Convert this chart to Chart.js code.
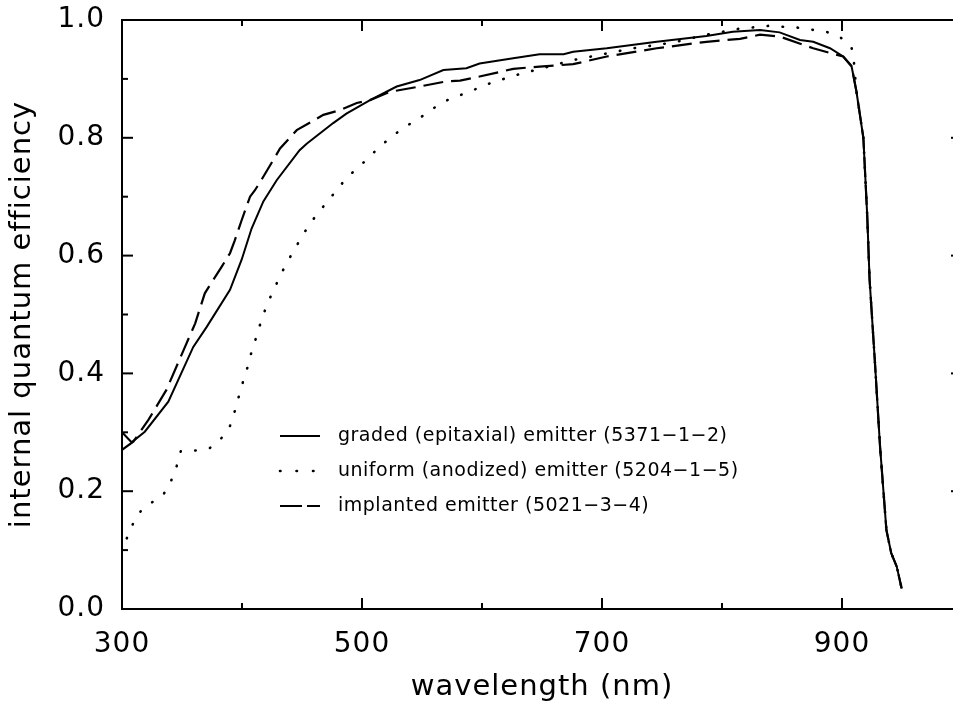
<!DOCTYPE html>
<html>
<head>
<meta charset="utf-8">
<script src="https://cdn.jsdelivr.net/npm/chart.js@4.4.1/dist/chart.umd.min.js"></script>
<style>
  html, body { margin: 0; padding: 0; background: #fff; overflow: hidden; }
  #wrap { width: 980px; height: 702px; }
</style>
</head>
<body>
<div id="wrap"><canvas id="qeChart"></canvas></div>
<script>
// graded (epitaxial) emitter, solid
const gradedNm = [300, 308, 319, 338.6, 359.4, 370.6, 390, 399.7, 408, 417.8, 428.9, 448, 453.9, 476, 487, 506.7, 528.9, 548, 567.8, 587, 598, 626, 648, 668, 676, 704, 745.6, 787, 809, 831.7, 848, 865, 876, 890, 901, 908, 912, 917.8, 921, 923, 927.5, 931.7, 937, 941, 945.6, 949.7];
const gradedQe = [0.30, 0.283, 0.301, 0.352, 0.445, 0.479, 0.542, 0.593, 0.646, 0.692, 0.728, 0.779, 0.79, 0.825, 0.841, 0.864, 0.887, 0.898, 0.915, 0.918, 0.926, 0.935, 0.942, 0.942, 0.946, 0.952, 0.963, 0.973, 0.98, 0.983, 0.979, 0.966, 0.963, 0.952, 0.938, 0.921, 0.879, 0.80, 0.669, 0.559, 0.417, 0.276, 0.134, 0.095, 0.072, 0.035];

// uniform (anodized) emitter, dotted
const uniformNm = [304, 309, 315.6, 325, 335, 341, 345.6, 349, 361, 373, 382.8, 390, 394, 397.5, 401, 404.7, 408, 412, 415.8, 420, 425, 430.6, 436, 442.8, 449, 455.8, 463.6, 471.7, 480, 488, 497.8, 506.7, 516, 526, 536, 547, 558, 568.6, 580, 591.7, 603, 615, 627.5, 650, 676, 701, 726, 760, 787, 813.6, 838.6, 863, 887, 899, 908, 910, 912, 917.8, 921, 923, 927.5, 931.7, 937, 941, 945.6, 949.7];
const uniformQe = [0.12, 0.144, 0.166, 0.181, 0.196, 0.218, 0.243, 0.268, 0.269, 0.273, 0.29, 0.311, 0.336, 0.362, 0.387, 0.411, 0.437, 0.462, 0.488, 0.512, 0.536, 0.56, 0.583, 0.607, 0.629, 0.652, 0.673, 0.693, 0.714, 0.734, 0.751, 0.769, 0.787, 0.804, 0.819, 0.832, 0.848, 0.862, 0.871, 0.88, 0.89, 0.898, 0.906, 0.918, 0.932, 0.942, 0.952, 0.962, 0.975, 0.985, 0.99, 0.987, 0.98, 0.97, 0.953, 0.927, 0.879, 0.80, 0.669, 0.559, 0.417, 0.276, 0.134, 0.095, 0.072, 0.035];

// implanted emitter, dashed
const implantedNm = [300, 309.4, 322, 337, 352.5, 361, 369, 383, 390, 394, 399.7, 406.7, 410.8, 416, 426, 431.7, 445.6, 467.8, 481.7, 495.6, 506.7, 523, 548, 570.6, 581.7, 598, 626, 648, 676, 704, 745.6, 787, 815, 831.7, 848, 876, 901, 908, 912, 917.8, 921, 923, 927.5, 931.7, 937, 941, 945.6, 949.7];
const implantedQe = [0.27, 0.284, 0.321, 0.372, 0.445, 0.485, 0.536, 0.581, 0.604, 0.626, 0.66, 0.70, 0.711, 0.728, 0.762, 0.782, 0.813, 0.839, 0.847, 0.859, 0.864, 0.878, 0.887, 0.896, 0.897, 0.904, 0.917, 0.921, 0.925, 0.938, 0.952, 0.963, 0.968, 0.975, 0.972, 0.952, 0.938, 0.922, 0.879, 0.80, 0.669, 0.559, 0.417, 0.276, 0.134, 0.095, 0.072, 0.035];

const seriesLabels = [
    'graded (epitaxial) emitter (5371\u22121\u22122)',
    'uniform (anodized) emitter (5204\u22121\u22125)',
    'implanted emitter (5021\u22123\u22124)'
];

const xTickLabels = [300, 500, 700, 900];
const xMinorTicks = [400, 600, 800, 1000];
const yTickLabels = [0, 0.2, 0.4, 0.6, 0.8, 1.0];
const yMinorTicks = [0.1, 0.3, 0.5, 0.7, 0.9];

const toPoints = (xs, ys) => xs.map((x, i) => ({ x, y: ys[i] }));

const FONT = '"DejaVu Sans", sans-serif';

// axes box with inward ticks, like the plotting package draws them
const frame = {
    id: 'frame',
    beforeDraw(chart) {
        chart.ctx.letterSpacing = '1px';
    },
    afterDatasetsDraw(chart) {
        const { ctx, chartArea: a, scales: { x, y } } = chart;
        ctx.save();
        ctx.strokeStyle = '#000';
        ctx.lineWidth = 2;
        ctx.lineCap = 'butt';
        ctx.strokeRect(a.left, a.top, a.right - a.left, a.bottom - a.top);

        const tick = (px, py, dx, dy) => {
            ctx.beginPath();
            ctx.moveTo(px, py);
            ctx.lineTo(px + dx, py + dy);
            ctx.stroke();
        };
        xTickLabels.forEach(v => {
            const px = x.getPixelForValue(v);
            tick(px, a.bottom, 0, -11);
            tick(px, a.top, 0, 11);
        });
        xMinorTicks.forEach(v => {
            const px = x.getPixelForValue(v);
            tick(px, a.bottom, 0, -6);
            tick(px, a.top, 0, 6);
        });
        yTickLabels.forEach(v => {
            const py = y.getPixelForValue(v);
            tick(a.left, py, 11, 0);
            tick(a.right, py, -11, 0);
        });
        yMinorTicks.forEach(v => {
            const py = y.getPixelForValue(v);
            tick(a.left, py, 6, 0);
            tick(a.right, py, -6, 0);
        });
        ctx.restore();
    },
    afterDraw(chart) {
        const { ctx, chartArea: a } = chart;
        const x0 = a.left + 158, x1 = a.left + 198, tx = a.left + 216;
        const rows = [436, 471, 506];
        ctx.save();
        ctx.letterSpacing = '0.5px';
        ctx.font = '19px ' + FONT;
        ctx.fillStyle = '#000';
        ctx.textBaseline = 'middle';
        chart.data.datasets.forEach((ds, i) => {
            ctx.strokeStyle = '#000';
            ctx.lineWidth = ds.borderWidth;
            ctx.lineCap = ds.borderCapStyle || 'butt';
            ctx.setLineDash(ds.legendDash || []);
            ctx.beginPath();
            ctx.moveTo(x0, rows[i]);
            ctx.lineTo(x1, rows[i]);
            ctx.stroke();
            ctx.setLineDash([]);
            ctx.fillText(seriesLabels[i], tx, rows[i]);
        });
        ctx.restore();
    }
};

new Chart(document.getElementById('qeChart'), {
    type: 'scatter',
    data: {
        datasets: [{
            label: seriesLabels[0],
            data: toPoints(gradedNm, gradedQe),
            borderColor: '#000',
            borderWidth: 2,
            legendDash: []
        }, {
            label: seriesLabels[1],
            data: toPoints(uniformNm, uniformQe),
            borderColor: '#000',
            borderWidth: 2.6,
            borderDash: [0.5, 14.5],
            borderCapStyle: 'round',
            legendDash: [0.5, 16]
        }, {
            label: seriesLabels[2],
            data: toPoints(implantedNm, implantedQe),
            borderColor: '#000',
            borderWidth: 2.2,
            borderDash: [20, 8],
            legendDash: [22, 5]
        }]
    },
    options: {
        responsive: true,
        maintainAspectRatio: false,
        animation: false,
        showLine: true,
        elements: { point: { radius: 0 }, line: { tension: 0 } },
        layout: { padding: { top: 20, right: 18, left: 0, bottom: 0 } },
        plugins: { legend: { display: false }, tooltip: { enabled: false } },
        scales: {
            x: {
                type: 'linear',
                min: 300,
                max: 1000,
                afterBuildTicks: s => { s.ticks = xTickLabels.map(v => ({ value: v })); },
                afterFit: s => { s.height = 93; s.paddingLeft = 0; s.paddingRight = 0; },
                grid: { display: false },
                border: { display: false },
                ticks: {
                    color: '#000',
                    font: { family: FONT, size: 28 },
                    padding: 11,
                    maxRotation: 0,
                    autoSkip: false,
                    callback: v => String(v)
                },
                title: {
                    display: true,
                    text: 'wavelength (nm)',
                    color: '#000',
                    font: { family: FONT, size: 29, lineHeight: 1 },
                    padding: { top: 0, bottom: 0 }
                }
            },
            y: {
                min: 0,
                max: 1,
                afterBuildTicks: s => { s.ticks = yTickLabels.map(v => ({ value: v })); },
                afterFit: s => { s.width = 122; s.paddingTop = 0; s.paddingBottom = 0; },
                grid: { display: false },
                border: { display: false },
                ticks: {
                    color: '#000',
                    font: { family: FONT, size: 28 },
                    padding: 9,
                    callback: v => Number(v).toFixed(1)
                },
                title: {
                    display: true,
                    text: 'internal quantum efficiency',
                    color: '#000',
                    font: { family: FONT, size: 29, lineHeight: 1 },
                    padding: { top: 8, bottom: 0 }
                }
            }
        }
    },
    plugins: [frame]
});
</script>
</body>
</html>
